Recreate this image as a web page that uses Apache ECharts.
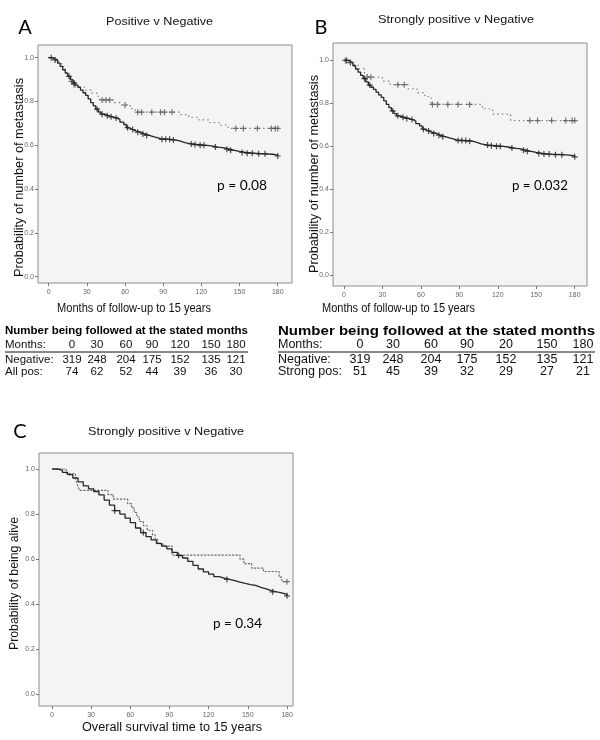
<!DOCTYPE html>
<html><head><meta charset="utf-8">
<script src="https://cdn.jsdelivr.net/npm/echarts@6/dist/echarts.min.js"></script>
<style>html,body{margin:0;padding:0;background:#fff}#c{width:600px;height:740px}</style>
</head><body><div id="c"></div>
<script>
// ---------------- data ----------------
const xTicks = [0, 30, 60, 90, 120, 150, 180];
const yTicks = [0, 0.2, 0.4, 0.6, 0.8, 1.0];

// Metastasis-free curves (months, probability) - Negative group (same in A and B)
const negMets = [[0,1],[3,0.995],[5,0.99],[7,0.975],[9,0.96],[11,0.945],[13,0.93],[15,0.915],[17,0.9],[19,0.885],[21,0.875],[23,0.865],[25,0.852],[27,0.84],[29,0.828],[31,0.812],[33,0.795],[35,0.78],[37,0.765],[39,0.752],[41,0.742],[44,0.735],[47,0.73],[50,0.725],[53,0.718],[56,0.706],[59,0.695],[61,0.68],[63,0.672],[66,0.665],[69,0.66],[72,0.652],[75,0.645],[79,0.638],[83,0.63],[88,0.627],[95,0.624],[100,0.62],[103,0.612],[107,0.606],[112,0.603],[118,0.6],[124,0.597],[128,0.592],[133,0.588],[138,0.582],[142,0.577],[146,0.572],[150,0.567],[155,0.564],[160,0.561],[170,0.559],[176,0.555],[180,0.551]];
const negMetsCensor = [[2,1.0],[5,0.99],[16,0.915],[20,0.885],[38,0.765],[42,0.742],[46,0.735],[49,0.73],[53,0.725],[62,0.68],[66,0.672],[70,0.66],[74,0.652],[77,0.645],[89,0.627],[92,0.627],[95,0.627],[98,0.624],[112,0.606],[115,0.603],[119,0.6],[122,0.6],[131,0.592],[140,0.582],[143,0.577],[152,0.567],[156,0.564],[160,0.564],[165,0.561],[170,0.561],[180,0.551]];

// A: all positive
const posMets = [[0,1],[4,0.986],[8,0.972],[11,0.959],[13,0.932],[15,0.905],[17,0.892],[19,0.878],[21,0.866],[28,0.852],[34,0.838],[38,0.824],[40,0.807],[51,0.795],[56,0.784],[64,0.768],[68,0.751],[104,0.74],[110,0.728],[118,0.716],[126,0.704],[134,0.692],[141,0.677],[180,0.677]];
const posMetsCensor = [[18,0.892],[20,0.878],[42,0.807],[45,0.807],[48,0.807],[60,0.784],[70,0.751],[73,0.751],[81,0.751],[88,0.751],[91,0.751],[97,0.751],[147,0.677],[153,0.677],[164,0.677],[175,0.677],[178,0.677],[180,0.677]];

// B: strongly positive
const strongMets = [[0,1],[6,0.98],[11,0.961],[16,0.941],[18,0.922],[30,0.904],[36,0.887],[50,0.868],[57,0.85],[63,0.832],[68,0.795],[108,0.775],[116,0.75],[130,0.72],[180,0.72]];
const strongMetsCensor = [[1,1.0],[18,0.922],[21,0.922],[42,0.887],[47,0.887],[69,0.795],[73,0.795],[81,0.795],[89,0.795],[98,0.795],[145,0.72],[151,0.72],[162,0.72],[173,0.72],[178,0.72],[180,0.72]];

// C: overall survival
const negSurv = [[0,1.0],[4,0.995],[8,0.985],[12,0.975],[16,0.96],[20,0.943],[24,0.925],[28,0.912],[32,0.9],[36,0.885],[40,0.862],[44,0.84],[48,0.815],[52,0.8],[56,0.782],[60,0.762],[64,0.738],[68,0.718],[72,0.7],[76,0.685],[80,0.67],[84,0.658],[88,0.645],[92,0.63],[96,0.616],[100,0.605],[104,0.59],[108,0.572],[112,0.556],[116,0.543],[120,0.533],[124,0.522],[128,0.516],[132,0.51],[136,0.505],[140,0.498],[144,0.492],[148,0.487],[152,0.483],[156,0.475],[160,0.468],[164,0.46],[168,0.455],[172,0.45],[176,0.444],[180,0.437]];
const negSurvCensor = [[48,0.815],[70,0.718],[97,0.616],[134,0.51],[169,0.455],[180,0.437]];
const strongSurv = [[3,1],[11,0.98],[18,0.96],[19,0.94],[20,0.922],[21,0.905],[43,0.886],[47,0.866],[58,0.846],[61,0.827],[63,0.807],[65,0.787],[67,0.767],[70,0.748],[73,0.728],[77,0.708],[79,0.688],[81,0.668],[85,0.658],[92,0.618],[144,0.6],[147,0.58],[153,0.56],[162,0.545],[174,0.52],[176,0.5],[180,0.5]];
const strongSurvCensor = [[180,0.5]];

// number-at-risk tables
const tableMonthsA = ['0','30','60','90','120','150','180'];
const tableMonthsB = ['0','30','60','90','20','150','180'];
const tableNeg = [319,248,204,175,152,135,121];
const tableAllPos = [74,62,52,44,39,36,30];
const tableStrongPos = [51,45,39,32,29,27,21];

// ---------------- layout helpers ----------------
const mctx = document.createElement('canvas').getContext('2d');
function measure(str, size, weight, fam) {
  mctx.font = `${weight} ${size}px "${fam}"`;
  return mctx.measureText(str).width;
}
function T(str, x, y, o) {
  o = o || {};
  const size = o.size || 12, weight = o.weight || 'normal', fam = o.family || 'Liberation Sans';
  let sx = o.sx || 1;
  if (o.w) sx = o.w / measure(str, size, weight, fam);
  return { type: 'text', x: x, y: y, rotation: o.rot || 0, scaleX: sx, z: 100,
    style: { text: str, fill: o.color || '#111', fontSize: size, fontWeight: weight, fontFamily: fam,
      align: o.align || 'center', verticalAlign: 'middle' } };
}

const grids = [
  { left: 38, top: 45, width: 254, height: 238 },
  { left: 333, top: 43, width: 254, height: 243 },
  { left: 39, top: 453, width: 254, height: 253 }
];
const xr = [[-8.4, 191.2], [-8.6, 189.6], [-9.9, 184.6]];
const yr = [[-0.029, 1.058], [-0.05, 1.081], [-0.052, 1.071]];

const gridOpts = grids.map(g => Object.assign({ show: true, borderColor: '#8c8c8c', borderWidth: 1, backgroundColor: '#f4f4f4' }, g));
const xAxes = grids.map((g, i) => ({
  gridIndex: i, type: 'value', min: xr[i][0], max: xr[i][1], position: 'bottom',
  axisLine: { show: false, onZero: false }, splitLine: { show: false },
  axisTick: { show: true, customValues: xTicks, length: 3, lineStyle: { color: '#777' } },
  axisLabel: { customValues: xTicks, fontSize: 7, color: '#666', margin: 6, fontFamily: 'Liberation Sans' }
}));
const yAxes = grids.map((g, i) => ({
  gridIndex: i, type: 'value', min: yr[i][0], max: yr[i][1], position: 'left',
  axisLine: { show: false, onZero: false }, splitLine: { show: false },
  axisTick: { show: true, customValues: yTicks, length: 3, lineStyle: { color: '#777' } },
  axisLabel: { customValues: yTicks, fontSize: 7, color: '#666', margin: 4, fontFamily: 'Liberation Sans',
    formatter: v => v.toFixed(1) }
}));

const plusPath = 'path://M2,0H3V2H5V3H3V5H2V3H0V2H2Z';
function curve(i, data, dashed, kind) {
  return { type: 'line', xAxisIndex: i, yAxisIndex: i, data: data, step: 'end', showSymbol: false,
    silent: true, animation: false, z: dashed ? 3 : 4,
    lineStyle: dashed ? { color: kind === 'c' ? '#6a6a6a' : '#7a7a7a', width: 1.2, type: kind === 'c' ? [2.2, 1.3] : [1.4, 3.2] }
                      : { color: '#262626', width: 1.3 } };
}
function censor(i, data, dashed) {
  return { type: 'scatter', xAxisIndex: i, yAxisIndex: i, data: data, symbol: plusPath, symbolSize: 6,
    silent: true, animation: false, z: 5, itemStyle: { color: dashed ? '#555' : '#222' } };
}

const series = [
  curve(0, posMets, true), censor(0, posMetsCensor, true), curve(0, negMets, false), censor(0, negMetsCensor, false),
  curve(1, strongMets, true), censor(1, strongMetsCensor, true), curve(1, negMets, false), censor(1, negMetsCensor, false),
  curve(2, strongSurv, true, 'c'), censor(2, strongSurvCensor, true), curve(2, negSurv, false), censor(2, negSurvCensor, false)
];

// ---------------- text ----------------
const AR = 'Liberation Sans', CAL = 'Lato';
const g = [];
g.push(T('A', 25, 28, { size: 20, family: CAL, color: '#000' }));
g.push(T('B', 321, 28, { size: 20, family: CAL, color: '#000' }));
g.push(T('C', 20, 432, { size: 20, family: CAL, color: '#000' }));
g.push(T('Positive v Negative', 159.5, 22, { size: 11.5, w: 107 }));
g.push(T('Strongly positive v Negative', 456, 20, { size: 11.5, w: 156 }));
g.push(T('Strongly positive v Negative', 166, 432, { size: 11.5, w: 156 }));
g.push(T('Probability of number of metastasis', 20, 177.5, { size: 12.5, w: 199, rot: Math.PI / 2 }));
g.push(T('Probability of number of metastasis', 315, 174, { size: 12.5, w: 198, rot: Math.PI / 2 }));
g.push(T('Probability of being alive', 15, 583.5, { size: 12.5, w: 133, rot: Math.PI / 2 }));
g.push(T('Months of follow-up to 15 years', 134, 309, { size: 12.5, w: 154 }));
g.push(T('Months of follow-up to 15 years', 398.5, 309, { size: 12.5, w: 153 }));
g.push(T('Overall survival time to 15 years', 172, 728, { size: 12.5, w: 180 }));
g.push(T('p = 0.08', 242, 185, { size: 14, family: CAL, w: 50, color: '#000' }));
g.push(T('p = 0.032', 540, 185, { size: 14, family: CAL, w: 56, color: '#000' }));
g.push(T('p = 0.34', 237.5, 623, { size: 14, family: CAL, w: 49, color: '#000' }));

// tables
const tTitle = 'Number being followed at the stated months';
function table(x0, totalW, titleSize, rowSize, rowScale, cols, rows) {
  const s = totalW / measure(tTitle, titleSize, 'bold', AR);
  g.push(T(tTitle, x0, 331, { size: titleSize, weight: 'bold', sx: s, align: 'left', color: '#000' }));
  rows.forEach((r, ri) => {
    const y = [345, 360, 372][ri];
    g.push(T(r[0], x0, y, { size: rowSize, sx: rowScale, align: 'left', color: '#111' }));
    r[1].forEach((v, ci) => g.push(T(String(v), cols[ci], y, { size: rowSize, sx: rowScale, color: '#111' })));
  });
  g.push({ type: 'line', z: 100, shape: { x1: x0, y1: 352, x2: x0 + totalW, y2: 352 }, style: { stroke: '#111', lineWidth: 1 } });
}
const sA = 243 / measure(tTitle, 11.5, 'bold', AR);
table(5, 243, 11.5, 11.5, sA, [72, 97, 126, 152, 180, 211, 236],
  [['Months:', tableMonthsA], ['Negative:', tableNeg], ['All pos:', tableAllPos]]);
table(278, 317, 13, 12.5, 1.0, [360, 393, 431, 467, 506, 547, 583],
  [['Months:', tableMonthsB], ['Negative:', tableNeg], ['Strong pos:', tableStrongPos]]);

const chart = echarts.init(document.getElementById('c'), null, { renderer: 'canvas' });
chart.setOption({
  animation: false,
  backgroundColor: '#fff',
  grid: gridOpts, xAxis: xAxes, yAxis: yAxes, series: series, graphic: g
});
</script></body></html>
